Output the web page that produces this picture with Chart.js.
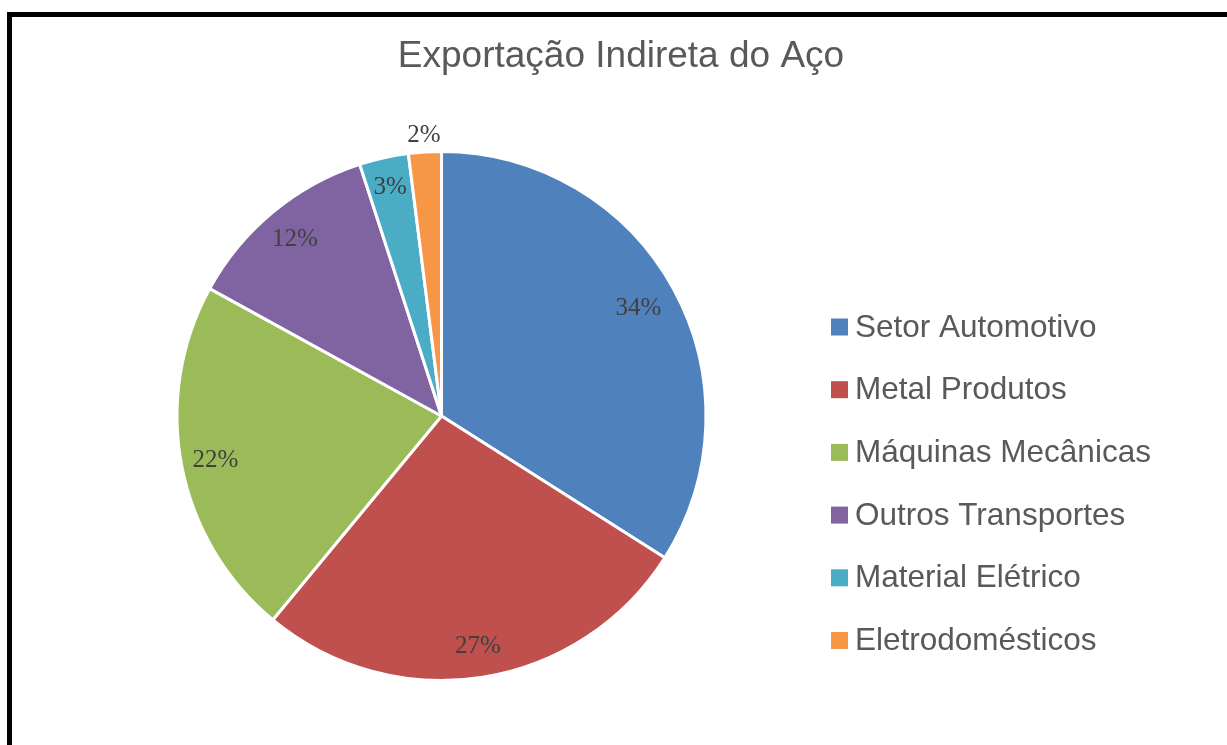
<!DOCTYPE html>
<html>
<head>
<meta charset="utf-8">
<script src="https://cdn.jsdelivr.net/npm/chart.js@4/dist/chart.umd.min.js"></script>
<style>
    html, body { margin: 0; padding: 0; background: #fff; overflow: hidden; }
    #wrap { position: relative; width: 1227px; height: 745px; }
    #frame { position: absolute; left: 7px; top: 12px; width: 1240px; height: 760px; border: 5px solid #000; box-sizing: border-box; pointer-events: none; }
    canvas { position: absolute; left: 0; top: 0; }
</style>
</head>
<body>
<div id="wrap">
    <canvas id="pieChart" width="1227" height="745"></canvas>
    <div id="frame"></div>
</div>
<script>
    // ---- data ----
    var chartTitle = 'Exportação Indireta do Aço';
    var categories = ['Setor Automotivo', 'Metal Produtos', 'Máquinas Mecânicas', 'Outros Transportes', 'Material Elétrico', 'Eletrodomésticos'];
    var shares = [34, 27, 22, 12, 3, 2];
    var sliceColors = ['#4F81BD', '#C0504D', '#9BBB59', '#8064A2', '#4BACC6', '#F79646'];
    // label distance from centre, as part of the radius (Excel "best fit")
    var labelReach = [0.85, 0.88, 0.87, 0.87, 0.89, 1.065];

    // ---- title, data labels, legend ----
    var decorPlugin = {
        id: 'decor',
        afterDraw: function (chart) {
            var ctx = chart.ctx;
            ctx.save();

            // title
            ctx.fillStyle = '#595959';
            ctx.font = '37px "Liberation Sans", Arial, sans-serif';
            ctx.textAlign = 'center';
            ctx.textBaseline = 'middle';
            ctx.fillText(chartTitle, 621, 57);

            // data labels
            var arcs = chart.getDatasetMeta(0).data;
            ctx.font = '25px "Liberation Serif", "DejaVu Serif", serif';
            ctx.fillStyle = '#404040';
            arcs.forEach(function (arc, i) {
                var p = arc.getProps(['x', 'y', 'startAngle', 'endAngle', 'outerRadius'], true);
                var mid = (p.startAngle + p.endAngle) / 2;
                var r = p.outerRadius * labelReach[i];
                ctx.fillText(shares[i] + '%', p.x + Math.cos(mid) * r, p.y + Math.sin(mid) * r + 1);
            });

            // legend
            ctx.font = '31.5px "Liberation Sans", Arial, sans-serif';
            ctx.textAlign = 'left';
            categories.forEach(function (name, i) {
                var y = 327 + i * 62.7;
                ctx.fillStyle = sliceColors[i];
                ctx.fillRect(831, y - 8.5, 17, 17);
                ctx.fillStyle = '#595959';
                ctx.fillText(name, 855, y + 1);
            });

            ctx.restore();
        }
    };

    new Chart(document.getElementById('pieChart'), {
        type: 'pie',
        data: {
            labels: categories,
            datasets: [{
                data: shares,
                backgroundColor: sliceColors,
                borderColor: '#ffffff',
                borderWidth: 3
            }]
        },
        options: {
            responsive: false,
            animation: false,
            layout: { padding: { left: 175, top: 150, right: 519, bottom: 63 } },
            plugins: {
                legend: { display: false },
                title: { display: false },
                tooltip: { enabled: false }
            }
        },
        plugins: [decorPlugin]
    });
</script>
</body>
</html>
